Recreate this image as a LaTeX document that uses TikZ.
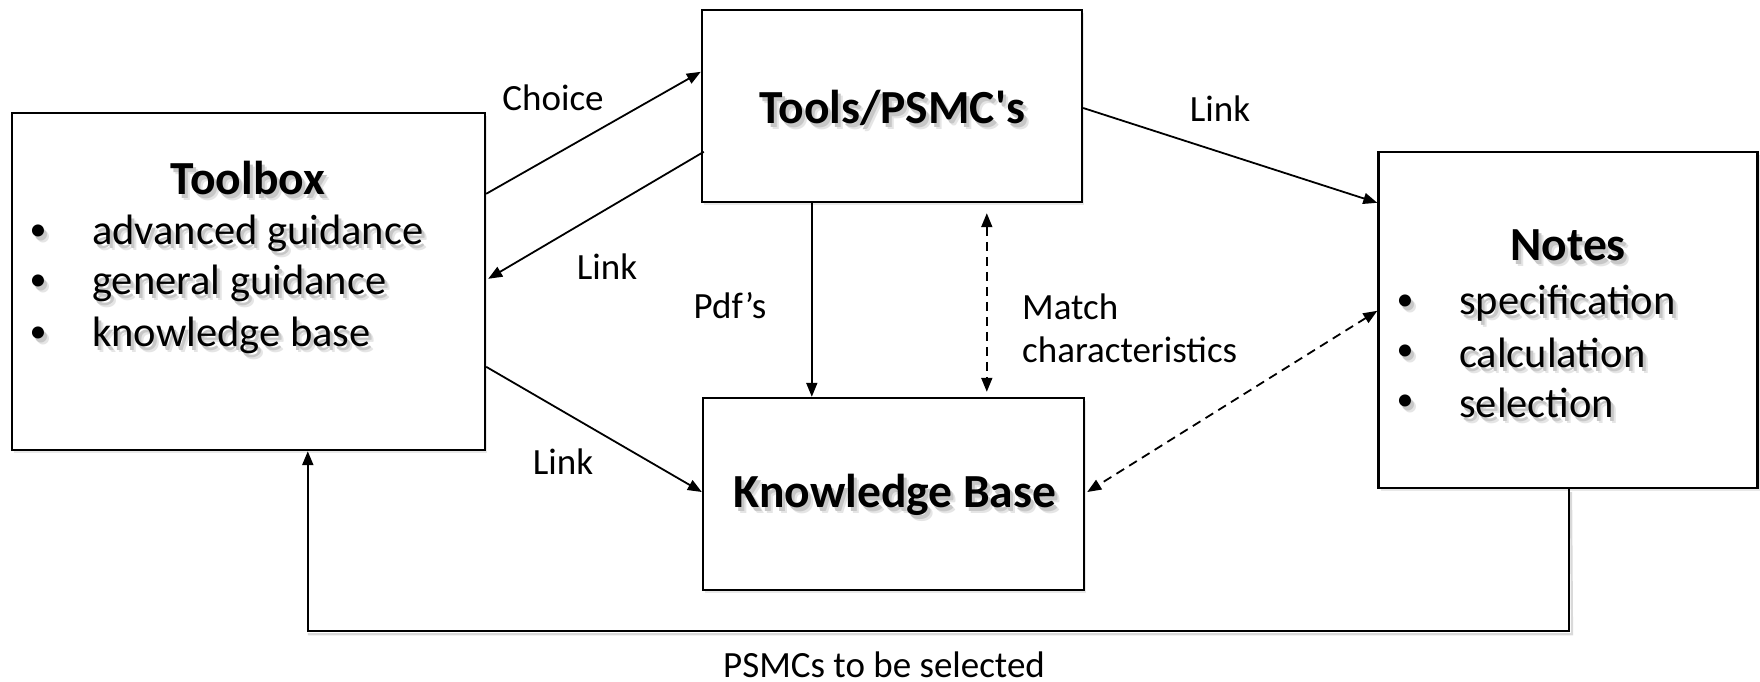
\documentclass[tikz,border=0pt]{standalone}
\usepackage{fontspec}
\setmainfont{Carlito}
\usetikzlibrary{arrows.meta,shadows,calc}

% text with a soft grey shadow below and to the right
\newcommand{\shd}[1]{%
  \makebox[0pt][l]{\kern5pt\raisebox{-6pt}[0pt][0pt]{\color{black!10}#1}}%
  \makebox[0pt][l]{\kern3pt\raisebox{-4pt}[0pt][0pt]{\color{black!22}#1}}%
  #1}

\tikzset{
  box/.style={draw=black, line width=2.4pt, fill=white, inner sep=0pt,
    drop shadow={opacity=0.18, shadow xshift=2pt, shadow yshift=-3pt}},
  tip/.style={Triangle[length=14pt,width=11pt]},
  conn/.style={line width=1.8pt, -{Triangle[length=14pt,width=11pt]}},
  dconn/.style={line width=1.8pt, dash pattern=on 9pt off 6pt,
    {Triangle[length=14pt,width=11pt]}-{Triangle[length=14pt,width=11pt]}},
  lbl/.style={font=\fontsize{37}{42}\selectfont, inner sep=0pt},
  title/.style={font=\fontsize{47.5}{54}\selectfont\bfseries, inner sep=0pt},
  item/.style={font=\fontsize{42.5}{50}\selectfont, inner sep=0pt, anchor=west},
  dot/.style={font=\fontsize{34}{40}\selectfont, inner sep=0pt},
}

\begin{document}
\begin{tikzpicture}[x=1pt,y=-1pt]
\useasboundingbox (0,0) rectangle (1760,681);

% boxes
\node[box, minimum width=473pt, minimum height=337pt] (toolbox) at (248.5,281.5) {};
\node[box, minimum width=380pt, minimum height=192pt] (tools) at (892,106) {};
\node[box, minimum width=381pt, minimum height=192pt] (kb) at (893.5,494) {};
\node[box, minimum width=379pt, minimum height=336pt] (notes) at (1568,320) {};

% box contents
\node[title] (ttoolbox) at (248,178) {\shd{Toolbox}};
\node[dot] (tb1d) at (38,233) {\shd{•}};
\node[item] (tb1) at (92,233) {\shd{advanced guidance}};
\node[dot] (tb2d) at (38,283) {\shd{•}};
\node[item] (tb2) at (92,283) {\shd{general guidance}};
\node[dot] (tb3d) at (38,335) {\shd{•}};
\node[item] (tb3) at (92,335) {\shd{knowledge base}};

\node[title] (ttools) at (892,108) {\shd{Tools/PSMC\textquotesingle s}};
\node[title] (tkb) at (895,495) {\shd{Knowledge Base}};

\node[title] (tnotes) at (1568,245) {\shd{Notes}};
\node[dot] (n1d) at (1405,303) {\shd{•}};
\node[item] (n1) at (1459,303) {\shd{specification}};
\node[dot] (n2d) at (1405,353) {\shd{•}};
\node[item] (n2) at (1459,353) {\shd{calculation}};
\node[dot] (n3d) at (1405,403) {\shd{•}};
\node[item] (n3) at (1459,403) {\shd{selection}};

% connectors
\draw[conn] ([yshift=-82pt]toolbox.north east) -- ([yshift=-63pt]tools.north west);
\draw[conn] ([yshift=-143pt,xshift=3pt]tools.north west) -- ([yshift=-167pt,xshift=2pt]toolbox.north east);
\draw[conn] ([yshift=-2pt]tools.east) -- ([yshift=-52pt]notes.north west);
\draw[conn] ([xshift=111pt]tools.south west) -- ([xshift=110pt]kb.north west);
\draw[dconn] ([xshift=286pt,yshift=-10pt]tools.south west) -- ([xshift=285pt,yshift=5pt]kb.north west);
\draw[conn] ([yshift=-255pt]toolbox.north east) -- ([yshift=2pt]kb.west);
\draw[dconn] ([yshift=-160pt]notes.north west) -- ([xshift=2pt,yshift=2pt]kb.east);

% feedback loop from the notes back to the toolbox
\coordinate (fbR) at ($(notes.south)+(1,142)$);
\coordinate (fbL) at ($(toolbox.south west)+(297,180)$);
\draw[line width=2.2pt, gray!30, line join=miter] ($(notes.south)+(3,3)$) -- ($(fbR)+(3,3)$) -- ($(fbL)+(0,3)$);
\draw[line width=2.2pt, -{Triangle[length=14pt,width=11pt]}, line join=miter]
  ([xshift=1pt]notes.south) -- (fbR) -- (fbL) -- ([xshift=297pt]toolbox.south west);

% labels
\node[lbl] (lchoice) at (553,98) {Choice};
\node[lbl] (llink1) at (607,267) {Link};
\node[lbl] (llink2) at (1220,109) {Link};
\node[lbl] (lpdf) at (730,306) {Pdf’s};
\node[lbl, anchor=west] (lmatch) at (1022,307) {Match};
\node[lbl, anchor=west] (lchar) at (1022,350) {characteristics};
\node[lbl] (llink3) at (563,462) {Link};
\node[lbl, anchor=base, text depth=0pt] (lpsmc) at (884,677) {PSMCs to be selected};
\end{tikzpicture}
\end{document}
